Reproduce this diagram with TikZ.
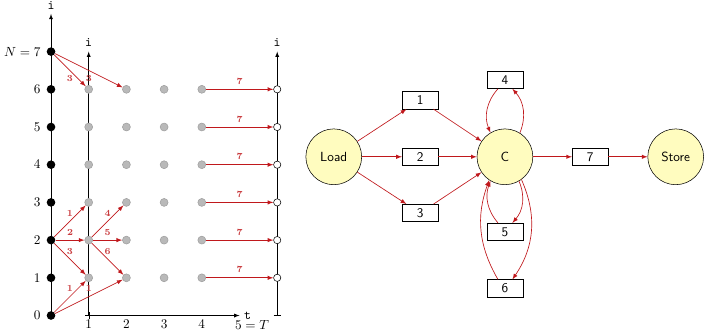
\documentclass[tikz,border=0pt]{standalone}
\usepackage{amsmath,amssymb}
\usepackage{tikz}
\usetikzlibrary{calc,positioning,shapes.geometric,arrows}
\definecolor{flowred}{RGB}{192,24,28}
\tikzset{
  blackdot/.style={circle,fill=black,inner sep=0pt,minimum size=6.5pt},
  greydot/.style={circle,fill=gray!55,draw=gray!75,inner sep=0pt,minimum size=6pt},
  opendot/.style={circle,fill=white,draw=black,inner sep=0pt,minimum size=5.5pt},
  flow/.style={-latex,flowred,line width=0.5pt},
  lbl/.style={font=\scriptsize\bfseries,text=flowred!85},
  stage/.style={circle,draw=black,fill=yellow!25,minimum size=1.48cm,font=\sffamily},
  job/.style={rectangle,draw=black,fill=white,minimum width=0.95cm,minimum height=0.46cm,inner sep=1pt,font=\sffamily},
}
\begin{document}
\begin{tikzpicture}
		\useasboundingbox (-1.353,-0.491) rectangle (17.586,8.369);
		% axes
		\coordinate (O) at(0,0);
		\coordinate (i0) at(0,8);
		\coordinate (t1) at(1,0);
		\coordinate (i1) at(1,7);
		\coordinate (t5) at(5,0);
		\coordinate (b6) at(6,0);
		\coordinate (i6) at(6,7);
		\draw[-latex] (O)--(i0);
		\draw[|-latex] (t1)--(i1);
		\draw[|-latex] (t1)--(t5);
		\draw[|-latex] (b6)--(i6);
		\node[above] at(i0) {\texttt{i}};
		\node[above] at(i1) {\texttt{i}};
		\node[above] at(i6) {\texttt{i}};
		\node[right] at(t5) {\texttt{t}};
		\foreach \t in {1,...,4}
			\node[below] at(\t,0) {$\t$};
		\node[below] at(5.33,0) {$5=T$};
		% states
		\foreach \i in {0,...,6}
			\node[blackdot,label={[label distance=1pt]left:$\i$}] (s\i) at(0,\i) {};
		\node[blackdot,label={[label distance=1pt]left:$N=7$}] (s7) at(0,7) {};
		\foreach \t in {1,...,4}
			\foreach \i in {1,...,6}
				\node[greydot] (g\t-\i) at(\t,\i) {};
		\foreach \i in {1,...,6}{
			\node[opendot] (e\i) at(6,\i) {};
			\draw[flow] (g4-\i) -- node[lbl,above] {7} (e\i);
		}
		% jobs
		\draw[flow] (s7) -- node[lbl,below] {3} (g1-6);
		\draw[flow] (s7) -- node[lbl,below] {3} (g2-6);
		\draw[flow] (s2) -- node[lbl,above] {1} (g1-3);
		\draw[flow] (s2) -- node[lbl,above] {2} (g1-2);
		\draw[flow] (s2) -- node[lbl,above] {3} (g1-1);
		\draw[flow] (s0) -- node[lbl,above] {1} (g1-1);
		\draw[flow] (s0) -- node[lbl,above] {1} (g2-1);
		\draw[flow] (g1-2) -- node[lbl,above] {4} (g2-3);
		\draw[flow] (g1-2) -- node[lbl,above] {5} (g2-2);
		\draw[flow] (g1-2) -- node[lbl,above] {6} (g2-1);
		% flow graph
		\node[stage] (load) at(7.5,4.21) {Load};
		\node[stage] (C) at(12.04,4.21) {C};
		\node[stage] (store) at(16.57,4.21) {Store};
		\node[job] (j1) at(9.79,5.71) {1};
		\node[job] (j2) at(9.79,4.21) {2};
		\node[job] (j3) at(9.79,2.72) {3};
		\node[job] (j4) at(12.04,6.25) {4};
		\node[job] (j5) at(12.04,2.22) {5};
		\node[job] (j6) at(12.04,0.72) {6};
		\node[job] (j7) at(14.3,4.21) {7};
		\draw[flow] (load)--(j1);
		\draw[flow] (load)--(j2);
		\draw[flow] (load)--(j3);
		\draw[flow] (j1)--(C);
		\draw[flow] (j2)--(C);
		\draw[flow] (j3)--(C);
		\draw[flow] (C)--(j7);
		\draw[flow] (j7)--(store);
		\draw[flow] (C.58) to[bend right=32] (j4.-50);
		\draw[flow] (j4.-128) to[bend right=32] (C.121);
		\draw[flow] (C.-60) to[bend left=32] (j5.50);
		\draw[flow] (j5.128) to[bend left=30] (C.-121);
		\draw[flow] (C.-54) to[bend left=29] (j6.50);
		\draw[flow] (j6.128) to[bend left=25] (C.-124);
	\end{tikzpicture}
\end{document}
